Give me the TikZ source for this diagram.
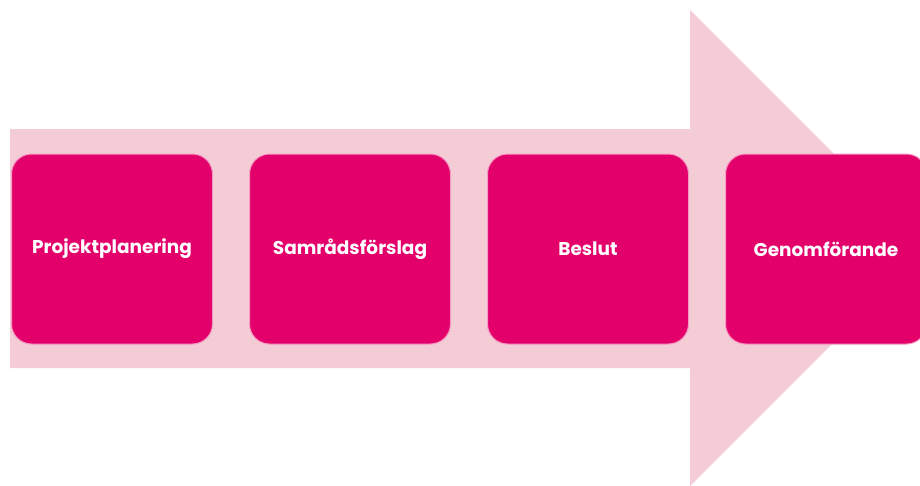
\documentclass[tikz,border=0pt]{standalone}
\usepackage{fontspec}
\setmainfont{Poppins}
\usepackage{tikz}
\usetikzlibrary{positioning}
\definecolor{stegrosa}{HTML}{E4006B}
\definecolor{pilrosa}{HTML}{F3CCD6}
\definecolor{kantrosa}{HTML}{F59AC2}

\tikzset{
  steg/.style={fill=stegrosa, draw=kantrosa, line width=1pt, rounded corners=20pt,
    minimum width=201pt, minimum height=190pt, inner sep=0pt,
    text=white, font=\bfseries\fontsize{18.5}{21}\selectfont}
}

\begin{document}
\begin{tikzpicture}[x=1pt,y=-1pt]
\useasboundingbox (0,0) rectangle (920,485);
\clip (0,0) rectangle (920,485);

% Arrow
\fill[pilrosa] (10,129) -- (690,129) -- (690,10) -- (928,248) -- (690,486)
  -- (690,368) -- (10,368) -- cycle;

% Steps
\node[steg] (plan) at (112,249) {Projektplanering};
\node[steg, right=36pt of plan] (samrad) {Samrådsförslag};
\node[steg, right=36pt of samrad] (beslut) {Beslut};
\node[steg, right=36pt of beslut] (genom) {Genomförande};
\end{tikzpicture}
\end{document}
